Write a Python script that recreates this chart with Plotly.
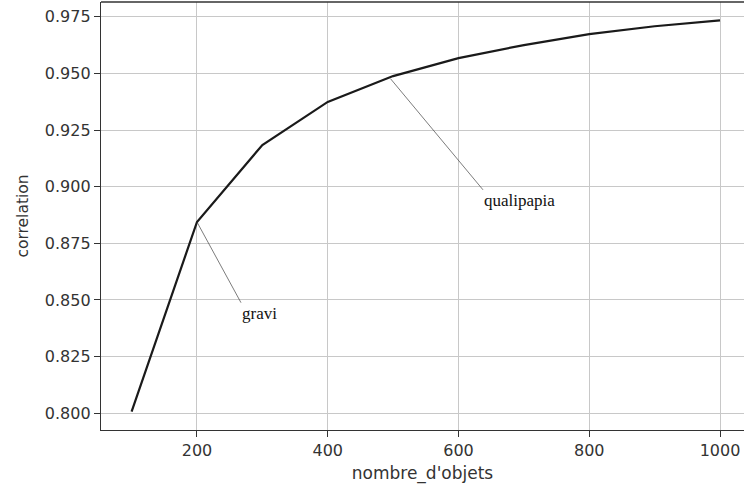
import plotly.graph_objects as go

n_objets = [100, 200, 300, 400, 500, 600, 700, 800, 900, 1000]
correlation = [0.8007, 0.8844, 0.9184, 0.9374, 0.9488, 0.9567, 0.9625, 0.9673, 0.9708, 0.9734]
x_ticks = [200, 400, 600, 800, 1000]
y_ticks = [0.800, 0.825, 0.850, 0.875, 0.900, 0.925, 0.950, 0.975]

ann_labels = ["gravi", "qualipapia"]
ann_points = [(200, 0.8844), (495, 0.9480)]
ann_text_pos = [(267.3, 0.8488), (637.5, 0.8986)]

fig = go.Figure()
fig.add_trace(go.Scatter(x=n_objets, y=correlation, mode="lines",
                         line=dict(color="#1a1a1a", width=2.2), showlegend=False,
                         hoverinfo="skip"))

for lab, (px, py), (tx, ty) in zip(ann_labels, ann_points, ann_text_pos):
    fig.add_annotation(x=px, y=py, ax=tx, ay=ty, xref="x", yref="y", axref="x", ayref="y",
                       text=lab, showarrow=True, arrowhead=0, arrowwidth=0.7,
                       arrowcolor="#444444", standoff=1, startstandoff=0,
                       xanchor="left", yanchor="top",
                       font=dict(family="Liberation Serif", size=17, color="#111111"),
                       borderpad=0)

axis_common = dict(showgrid=True, gridcolor="#c8c8c8", gridwidth=1.3,
                   zeroline=False, showline=True, linecolor="#333333", linewidth=1.3,
                   ticks="outside", ticklen=6, tickwidth=1.3, tickcolor="#333333",
                   tickfont=dict(family="DejaVu Sans", size=16, color="#333333"),
                   mirror=False)

fig.update_xaxes(range=[53.2, 1036.7], tickvals=x_ticks, ticktext=[str(v) for v in x_ticks],
                 title=dict(text="nombre_d'objets", font=dict(family="DejaVu Sans", size=17, color="#333333"), standoff=7),
                 **axis_common)
fig.update_yaxes(range=[0.7926, 0.9815], tickvals=y_ticks, ticktext=[f"{v:.3f}" for v in y_ticks],
                 title=dict(text="correlation", font=dict(family="DejaVu Sans", size=15.5, color="#333333"), standoff=12),
                 **axis_common)

fig.add_shape(type="line", xref="paper", yref="paper", x0=0, x1=1, y0=1, y1=1,
              line=dict(color="#333333", width=1.3))

fig.update_layout(width=744, height=485, margin=dict(l=101, r=0, t=2, b=55),
                  plot_bgcolor="white", paper_bgcolor="white")

fig.write_html("out.html", config={"displayModeBar": False},
               post_script="document.body.style.margin='0';document.body.style.overflow='hidden';")
